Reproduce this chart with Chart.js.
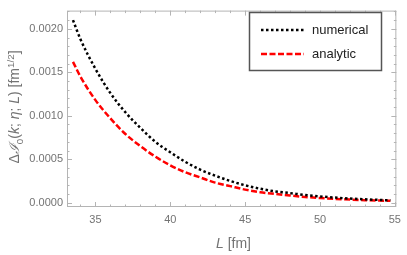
<!DOCTYPE html>
<html>
<head>
<meta charset="utf-8">
<script src="https://cdn.jsdelivr.net/npm/chart.js@4"></script>
<style>
  html, body { margin: 0; padding: 0; background: #fff; }
  #wrap { width: 407px; height: 255px; }
</style>
</head>
<body>
<div id="wrap"><canvas id="chart" width="407" height="255"></canvas></div>
<script>
// values
const lVals = [33.5, 34, 35, 36, 37, 38, 39, 40, 41, 42, 43, 44, 45, 46, 47, 48, 49, 50, 51, 52, 53, 54, 54.7];
const numerical = [0.00210, 0.00188, 0.00154, 0.00126, 0.00104, 0.00086, 0.00070, 0.00058, 0.00047, 0.00038, 0.00031, 0.00025,
                   0.00020, 0.00016, 0.00013, 0.00011, 0.000088, 0.000072, 0.000058, 0.000047, 0.000038, 0.000031, 0.000027];
const analytic = [0.00162, 0.00145, 0.00118, 0.00097, 0.00079, 0.00065, 0.00053, 0.00043, 0.00035, 0.00029, 0.00023, 0.00019,
                  0.00015, 0.00012, 0.00010, 0.000082, 0.000066, 0.000053, 0.000043, 0.000035, 0.000029, 0.000024, 0.000021];
const seriesNames = ['numerical', 'analytic'];
const xTicks = [35, 40, 45, 50, 55];
const yTicks = [0, 0.0005, 0.0010, 0.0015, 0.0020];

const frameCol = '#b4b4b4';
const labelCol = '#737373';

function pts(ys) {
  return lVals.map((l, i) => ({ x: l, y: ys[i] }));
}

// draws text pieces with italics / sub / superscripts
function richText(ctx, segs, cx, cy, size) {
  let total = 0;
  segs.forEach(s => {
    let sz = s.sub || s.sup ? size * 0.7 : size;
    ctx.font = (s.it ? 'italic ' : '') + sz + 'px "Liberation Sans", Arial, sans-serif';
    s.w = ctx.measureText(s.t).width;
    s.sz = sz;
    total += s.w;
  });
  let x = cx - total / 2;
  segs.forEach(s => {
    ctx.font = (s.it ? 'italic ' : '') + s.sz + 'px "Liberation Sans", Arial, sans-serif';
    let dy = s.sub ? size * 0.3 : (s.sup ? -size * 0.38 : 0);
    ctx.fillText(s.t, x, cy + dy);
    x += s.w;
  });
}

const framePlugin = {
  id: 'frame',
  beforeDatasetsDraw(chart) {
    const ctx = chart.ctx, a = chart.chartArea;
    const xs = chart.scales.x, ys = chart.scales.y;
    ctx.save();
    ctx.strokeStyle = frameCol;
    ctx.lineWidth = 1;
    ctx.strokeRect(a.left + 0.5, a.top + 0.5, a.right - a.left - 1, a.bottom - a.top - 1);
    ctx.beginPath();
    // x ticks, bottom and top, inward
    for (let v = 34; v <= 55; v++) {
      let len = xTicks.includes(v) ? 5 : 2.5;
      let px = Math.round(xs.getPixelForValue(v)) + 0.5;
      ctx.moveTo(px, a.bottom); ctx.lineTo(px, a.bottom - len);
      ctx.moveTo(px, a.top); ctx.lineTo(px, a.top + len);
    }
    for (let k = 0; k <= 22; k++) {
      let v = k * 0.0001;
      let len = k % 5 === 0 ? 5 : 2.5;
      let py = Math.round(ys.getPixelForValue(v)) + 0.5;
      ctx.moveTo(a.left, py); ctx.lineTo(a.left + len, py);
      ctx.moveTo(a.right, py); ctx.lineTo(a.right - len, py);
    }
    ctx.stroke();
    ctx.restore();
  },
  afterDraw(chart) {
    const ctx = chart.ctx;
    ctx.save();
    // axis titles
    ctx.fillStyle = labelCol;
    ctx.textBaseline = 'alphabetic';
    richText(ctx, [{ t: 'L', it: true }, { t: ' [fm]' }], 233.5, 248, 14);
    ctx.translate(19, 107);
    ctx.rotate(-Math.PI / 2);
    richText(ctx, [{ t: 'Δ' }, { t: 'ℐ', it: true }, { t: '0', sub: true }, { t: '(' }, { t: 'k', it: true }, { t: '; ' },
                   { t: 'η', it: true }, { t: '; ' }, { t: 'L', it: true }, { t: ') [fm' }, { t: '1/2', sup: true }, { t: ']' }],
             0, 0, 14);
    ctx.restore();

    // legend
    ctx.save();
    ctx.fillStyle = '#fff';
    ctx.fillRect(249, 12, 133, 58);
    ctx.strokeStyle = '#555';
    ctx.lineWidth = 1.5;
    ctx.strokeRect(249.5, 12.5, 132, 58);
    const rows = [30, 54];
    chart.data.datasets.forEach((ds, i) => {
      ctx.strokeStyle = ds.borderColor;
      ctx.lineWidth = ds.borderWidth;
      ctx.setLineDash(ds.borderDash);
      ctx.beginPath();
      ctx.moveTo(261, rows[i]); ctx.lineTo(304, rows[i]);
      ctx.stroke();
      ctx.setLineDash([]);
      ctx.fillStyle = '#222';
      ctx.font = '13px "Liberation Sans", Arial, sans-serif';
      ctx.textBaseline = 'middle';
      ctx.fillText(ds.label, 312, rows[i]);
    });
    ctx.restore();
  }
};

new Chart(document.getElementById('chart'), {
  type: 'line',
  data: {
    datasets: [
      { label: seriesNames[0], data: pts(numerical), borderColor: '#000', borderWidth: 2.5,
        borderDash: [2.5, 2.5], pointRadius: 0, cubicInterpolationMode: 'monotone', fill: false },
      { label: seriesNames[1], data: pts(analytic), borderColor: '#ff0000', borderWidth: 2.5,
        borderDash: [6, 2.5], pointRadius: 0, cubicInterpolationMode: 'monotone', fill: false }
    ]
  },
  options: {
    responsive: false,
    animation: false,
    devicePixelRatio: 1,
    layout: { padding: { top: 1, right: 7, left: 0, bottom: 0 } },
    plugins: { legend: { display: false }, tooltip: { enabled: false } },
    scales: {
      x: {
        type: 'linear', min: 33.1, max: 55.1,
        afterBuildTicks: s => { s.ticks = xTicks.map(v => ({ value: v })); },
        afterFit: s => { s.height = 48; },
        grid: { display: false, drawTicks: false },
        border: { display: false },
        ticks: { color: labelCol, padding: 6, maxRotation: 0, font: { family: '"Liberation Sans", Arial, sans-serif', size: 11 },
                 callback: v => String(v) }
      },
      y: {
        type: 'linear', min: -0.00005, max: 0.00221,
        afterBuildTicks: s => { s.ticks = yTicks.map(v => ({ value: v })); },
        afterFit: s => { s.width = 67; },
        grid: { display: false, drawTicks: false },
        border: { display: false },
        ticks: { color: labelCol, padding: 4, font: { family: '"Liberation Sans", Arial, sans-serif', size: 11 },
                 callback: v => v.toFixed(4) }
      }
    }
  },
  plugins: [framePlugin]
});
</script>
</body>
</html>
